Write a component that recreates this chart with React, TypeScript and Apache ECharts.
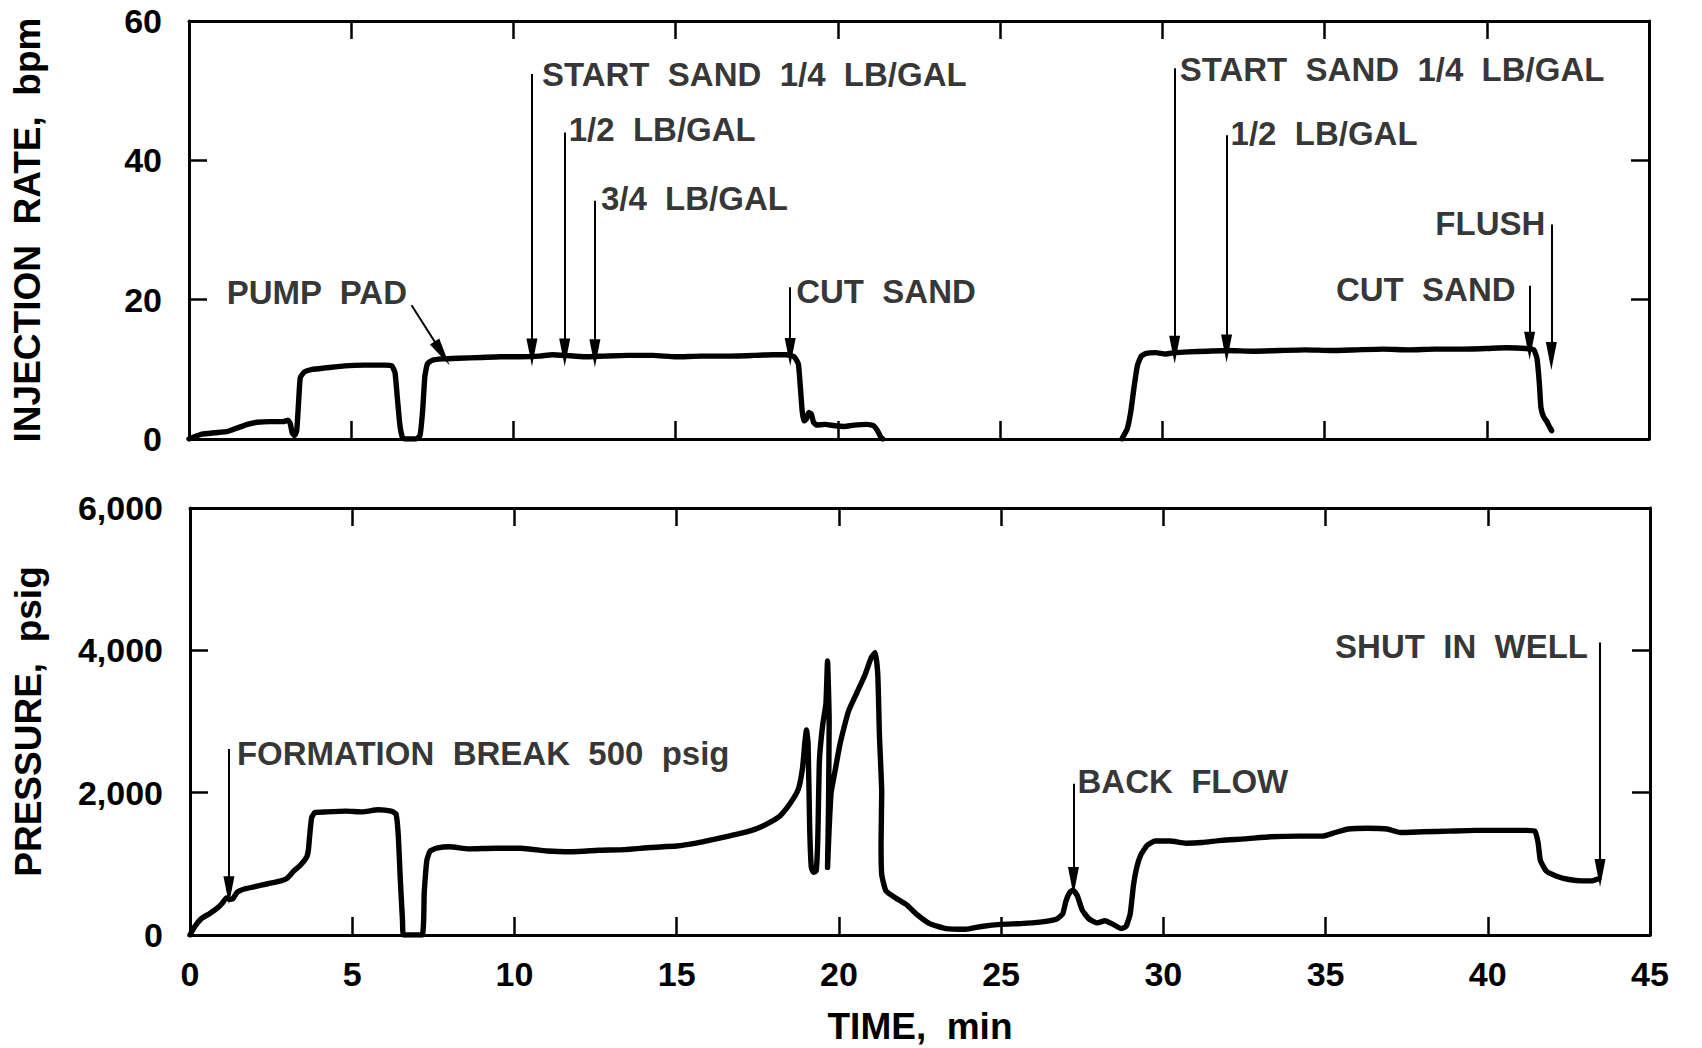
import React, { useEffect, useRef } from "react";
import * as echarts from "echarts";

// ---------- DATA ----------
const timeMin = 0;
const timeMax = 45;
const timeStep = 5;
const rateMax = 60;
const rateStep = 20;
const pressureMax = 6000;
const pressureStep = 2000;

// Injection rate, bpm  [time min, rate]
const rateRun1: [number, number][] = [
  [0, 0], [0.15, 0.3], [0.4, 0.7], [0.8, 0.9], [1.2, 1.1], [1.5, 1.6], [1.8, 2.1], [2.1, 2.4],
  [2.5, 2.5], [2.9, 2.5], [3.05, 2.7], [3.12, 2.2], [3.18, 0.9], [3.25, 0.5], [3.32, 1.2],
  [3.38, 5.5], [3.43, 8.8], [3.55, 9.6], [3.8, 10.0], [4.2, 10.2], [4.8, 10.5], [5.4, 10.6],
  [6.0, 10.6], [6.25, 10.5], [6.35, 9.5], [6.42, 6.0], [6.5, 2.0], [6.58, 0.2], [6.65, 0],
  [7.0, 0], [7.12, 0.5], [7.2, 4.0], [7.27, 9.0], [7.35, 10.8], [7.5, 11.3], [7.8, 11.5],
  [8.3, 11.6], [9.0, 11.7], [9.6, 11.8], [10.2, 11.8], [10.8, 11.9], [11.2, 12.1], [11.6, 12.0],
  [12.2, 11.8], [12.8, 11.9], [13.5, 12.0], [14.3, 12.0], [15.0, 11.8], [15.8, 11.9],
  [16.6, 11.9], [17.4, 12.0], [18.0, 12.1], [18.4, 12.1], [18.65, 11.8], [18.78, 10.8],
  [18.85, 7.0], [18.9, 4.0], [18.95, 2.6], [19.02, 2.8], [19.1, 3.8], [19.18, 3.6],
  [19.25, 2.4], [19.35, 2.0], [19.6, 2.1], [19.9, 1.9], [20.2, 1.8], [20.5, 2.0], [20.9, 2.1],
  [21.1, 1.9], [21.22, 1.2], [21.32, 0.3], [21.38, 0],
];
const rateRun2: [number, number][] = [
  [28.75, 0], [28.92, 1.5], [29.03, 4.0], [29.13, 7.5], [29.23, 10.5], [29.35, 11.9], [29.5, 12.3],
  [29.8, 12.4], [30.1, 12.2], [30.4, 12.4], [30.8, 12.5], [31.4, 12.6], [32.0, 12.7], [32.8, 12.6],
  [33.6, 12.7], [34.4, 12.8], [35.2, 12.7], [36.0, 12.8], [36.8, 12.9], [37.6, 12.8], [38.4, 12.9],
  [39.2, 12.9], [40.0, 13.0], [40.6, 13.1], [41.2, 13.0], [41.45, 12.8], [41.55, 11.5],
  [41.62, 8.0], [41.67, 4.5], [41.75, 3.2], [41.85, 2.5], [41.95, 1.6], [42.0, 1.2],
];

// Pressure, psig  [time min, pressure]
const pressureRun: [number, number][] = [
  [0, 0], [0.15, 120], [0.35, 230], [0.6, 300], [0.85, 380], [1.0, 450], [1.12, 520], [1.22, 500],
  [1.32, 510], [1.45, 600], [1.7, 650], [2.0, 680], [2.4, 720], [2.8, 760], [3.0, 800], [3.2, 900],
  [3.4, 980], [3.6, 1100], [3.65, 1200], [3.7, 1450], [3.75, 1650], [3.85, 1720], [4.2, 1730],
  [4.8, 1740], [5.3, 1730], [5.8, 1760], [6.2, 1740], [6.35, 1700], [6.42, 1400], [6.48, 800],
  [6.55, 200], [6.58, 0], [7.15, 0], [7.22, 600], [7.3, 1050], [7.4, 1180], [7.6, 1220],
  [8.0, 1240], [8.6, 1210], [9.4, 1220], [10.2, 1220], [11.0, 1180], [11.8, 1170], [12.6, 1190],
  [13.4, 1200], [14.2, 1230], [15.0, 1250], [15.6, 1290], [16.0, 1330], [16.5, 1380],
  [17.0, 1430], [17.5, 1500], [17.9, 1590], [18.2, 1680], [18.5, 1850], [18.75, 2050],
  [18.88, 2350], [18.95, 2700], [19.0, 2880], [19.05, 2700], [19.1, 1500], [19.15, 950],
  [19.22, 880], [19.3, 900], [19.35, 1350], [19.4, 2450], [19.5, 2950], [19.6, 3250],
  [19.65, 3850], [19.7, 3000], [19.68, 1800], [19.65, 950], [19.7, 1500], [19.76, 2000],
  [19.88, 2300], [20.02, 2650], [20.15, 2900], [20.3, 3150], [20.55, 3400], [20.8, 3650],
  [21.0, 3900], [21.12, 3970], [21.2, 3650], [21.25, 2800], [21.32, 2000], [21.3, 1300],
  [21.32, 850], [21.45, 620], [21.75, 520], [22.1, 420], [22.4, 290], [22.8, 160], [23.3, 90],
  [23.9, 80], [24.4, 120], [25.0, 150], [25.6, 160], [26.2, 180], [26.7, 220], [26.9, 300],
  [27.0, 480], [27.12, 600], [27.22, 630], [27.35, 550], [27.5, 350], [27.7, 230], [27.95, 170],
  [28.2, 200], [28.45, 150], [28.7, 90], [28.85, 120], [28.98, 300], [29.08, 700], [29.18, 950],
  [29.3, 1120], [29.5, 1260], [29.75, 1320], [30.2, 1320], [30.7, 1290], [31.2, 1300],
  [31.8, 1330], [32.5, 1350], [33.3, 1380], [34.2, 1390], [34.9, 1390], [35.3, 1440],
  [35.7, 1490], [36.3, 1500], [36.9, 1490], [37.3, 1440], [38.0, 1450], [38.8, 1460],
  [39.6, 1470], [40.4, 1470], [41.2, 1470], [41.45, 1460], [41.55, 1300], [41.62, 1050],
  [41.8, 900], [42.1, 830], [42.5, 780], [42.9, 760], [43.2, 760], [43.42, 790],
];

// Annotations, injection-rate panel
const rateNoteText = [
  "PUMP  PAD", "START  SAND  1/4  LB/GAL", "1/2  LB/GAL", "3/4  LB/GAL", "CUT  SAND",
  "START  SAND  1/4  LB/GAL", "1/2  LB/GAL", "CUT  SAND", "FLUSH",
];
const rateNoteAt: [number, number][] = [
  [6.78, 21.1], [10.57, 52.3], [11.58, 44.4], [12.51, 34.5], [18.53, 21.2],
  [30.38, 53.0], [31.98, 43.8], [41.32, 21.4], [41.99, 30.9],
];
const rateNoteSide = ["left", "right", "right", "right", "right", "right", "right", "left", "left"];
const rateNoteGap = [2, 10, 4, 6, 6, 5, 4, 14, 6];
const rateArrowFrom: [number, number][] = [
  [6.86, 19.2], [10.57, 52.4], [11.58, 44.0], [12.51, 34.2], [18.53, 21.8],
  [30.38, 53.2], [31.98, 43.6], [41.32, 22.0], [41.99, 30.8],
];
const rateArrowTo: [number, number][] = [
  [7.8, 12.3], [10.57, 12.4], [11.58, 12.4], [12.51, 12.3], [18.53, 12.5],
  [30.38, 12.8], [31.98, 13.0], [41.32, 13.4], [41.99, 11.9],
];

// Annotations, pressure panel
const pressureNoteText = ["FORMATION  BREAK  500  psig", "BACK  FLOW", "SHUT  IN  WELL"];
const pressureNoteAt: [number, number][] = [[1.2, 2553], [27.23, 2157], [43.46, 4048]];
const pressureNoteSide = ["right", "right", "left"];
const pressureNoteGap = [8, 4, 12];
const pressureArrowFrom: [number, number][] = [[1.2, 2614], [27.23, 2127], [43.46, 4110]];
const pressureArrowTo: [number, number][] = [[1.2, 630], [27.23, 760], [43.46, 870]];

// ---------- STYLE ----------
const FONT = "'Liberation Sans', Arial, Helvetica, sans-serif";
const INK = "#000";
const ARROW = "path://M5 0 L10 30 L0 30 Z";

const frameLine = { show: true, onZero: false, lineStyle: { color: INK, width: 3 } };
const innerTick = { show: true, inside: true, length: 18, lineStyle: { color: INK, width: 2.5 } };
const tickFont = { color: INK, fontFamily: FONT, fontWeight: "bold" as const, fontSize: 34 };
const nameFont = { color: INK, fontFamily: FONT, fontWeight: "bold" as const, fontSize: 37 };
const noteFont = { color: INK, fontFamily: FONT, fontWeight: "bold" as const, fontSize: 33 };

function xAxisFor(gridIndex: number, position: string, labels: boolean) {
  return {
    type: "value", gridIndex, position, min: timeMin, max: timeMax, interval: timeStep,
    axisLine: frameLine, axisTick: innerTick, splitLine: { show: false },
    axisLabel: labels ? { show: true, margin: 22, ...tickFont } : { show: false },
    ...(labels
      ? { name: "TIME,  min", nameLocation: "middle", nameGap: 73, nameTextStyle: nameFont }
      : {}),
  };
}

function yAxisFor(gridIndex: number, position: string, max: number, step: number, name?: string) {
  return {
    type: "value", gridIndex, position, min: 0, max, interval: step,
    axisLine: frameLine, axisTick: innerTick, splitLine: { show: false },
    axisLabel: name
      ? { show: true, margin: 27, ...tickFont, formatter: (v: number) => v.toLocaleString("en-US") }
      : { show: false },
    ...(name
      ? { name, nameLocation: "middle", nameRotate: 90, nameGap: 143, nameTextStyle: nameFont }
      : {}),
  };
}

function noteSeries(
  xAxisIndex: number, yAxisIndex: number, texts: string[], at: [number, number][],
  side: string[], gap: number[], from: [number, number][], to: [number, number][],
) {
  return {
    type: "scatter", xAxisIndex, yAxisIndex, symbolSize: 0, silent: true, z: 5,
    data: texts.map((t, i) => ({
      name: t, value: at[i],
      label: { show: true, position: side[i], distance: gap[i], formatter: "{b}", ...noteFont },
    })),
    markLine: {
      silent: true, animation: false, symbol: ["none", ARROW], symbolSize: [11, 28],
      label: { show: false }, emphasis: { disabled: true },
      lineStyle: { color: INK, width: 2, type: "solid" },
      data: from.map((f, i) => [{ coord: f }, { coord: to[i] }]),
    },
  };
}

function curve(xAxisIndex: number, yAxisIndex: number, data: [number, number][]) {
  return {
    type: "line", xAxisIndex, yAxisIndex, data, showSymbol: false, silent: true, smooth: 0.15,
    z: 4, lineStyle: { color: INK, width: 5.4, cap: "round", join: "round" },
  };
}

const option = {
  animation: false,
  backgroundColor: "#fff",
  grid: [
    { left: 189, top: 21, width: 1460, height: 418 },
    { left: 190, top: 508, width: 1460, height: 427 },
  ],
  xAxis: [
    xAxisFor(0, "bottom", false), xAxisFor(0, "top", false),
    xAxisFor(1, "bottom", true), xAxisFor(1, "top", false),
  ],
  yAxis: [
    yAxisFor(0, "left", rateMax, rateStep, "INJECTION  RATE,  bpm"),
    yAxisFor(0, "right", rateMax, rateStep),
    yAxisFor(1, "left", pressureMax, pressureStep, "PRESSURE,  psig"),
    yAxisFor(1, "right", pressureMax, pressureStep),
  ],
  series: [
    curve(0, 0, rateRun1),
    curve(0, 0, rateRun2),
    curve(2, 2, pressureRun),
    noteSeries(0, 0, rateNoteText, rateNoteAt, rateNoteSide, rateNoteGap, rateArrowFrom, rateArrowTo),
    noteSeries(2, 2, pressureNoteText, pressureNoteAt, pressureNoteSide, pressureNoteGap,
      pressureArrowFrom, pressureArrowTo),
  ],
};

export default function App() {
  const ref = useRef<HTMLDivElement>(null);
  useEffect(() => {
    document.body.style.margin = "0";
    const chart = echarts.init(ref.current!, undefined, { renderer: "svg" });
    chart.setOption(option as any);
    return () => chart.dispose();
  }, []);
  return (
    <div
      ref={ref}
      style={{ position: "fixed", left: 0, top: 0, width: 1702, height: 1048, background: "#fff" }}
    />
  );
}
